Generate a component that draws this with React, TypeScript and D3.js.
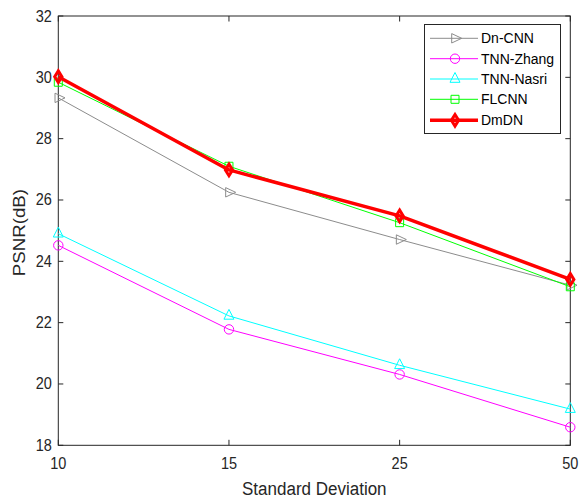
import React from "react";
import * as d3 from "d3";

const categories = ["10", "15", "25", "50"];
const yTicks = [18, 20, 22, 24, 26, 28, 30, 32];
const seriesNames = ["Dn-CNN", "TNN-Zhang", "TNN-Nasri", "FLCNN", "DmDN"];
const dnCNN = [29.33, 26.25, 24.71, 23.22];
const tnnZhang = [24.52, 21.78, 20.31, 18.59];
const tnnNasri = [24.9, 22.22, 20.61, 19.18];
const flcnn = [29.84, 27.1, 25.26, 23.17];
const dmdn = [30.02, 26.98, 25.48, 23.41];

const W = 579, H = 498;
const left = 58.3, right = 570.3, top = 16, bottom = 445.3;
const ink = "#262626";
const font = "'Liberation Sans', Arial, sans-serif";

type Marker = "tri-right" | "circle" | "tri-up" | "square" | "diamond";

const series = [
  { name: seriesNames[0], values: dnCNN, color: "#8c8c8c", width: 1, marker: "tri-right" as Marker },
  { name: seriesNames[1], values: tnnZhang, color: "#ff00ff", width: 1, marker: "circle" as Marker },
  { name: seriesNames[2], values: tnnNasri, color: "#00ffff", width: 1, marker: "tri-up" as Marker },
  { name: seriesNames[3], values: flcnn, color: "#00ff00", width: 1, marker: "square" as Marker },
  { name: seriesNames[4], values: dmdn, color: "#ff0000", width: 3.5, marker: "diamond" as Marker },
];

function markerPath(m: Marker, x: number, y: number): string {
  switch (m) {
    case "tri-right":
      return `M${x + 6.7},${y} L${x - 3.3},${y - 4.7} L${x - 3.3},${y + 4.7} Z`;
    case "tri-up":
      return `M${x},${y - 6.5} L${x + 5},${y + 3.3} L${x - 5},${y + 3.3} Z`;
    case "square":
      return `M${x - 4},${y - 4} L${x + 4},${y - 4} L${x + 4},${y + 4} L${x - 4},${y + 4} Z`;
    case "diamond":
      return `M${x},${y - 5.8} L${x + 3.6},${y} L${x},${y + 5.8} L${x - 3.6},${y} Z`;
    case "circle":
    default: {
      const r = 4.7;
      return `M${x - r},${y} A${r},${r} 0 1,0 ${x + r},${y} A${r},${r} 0 1,0 ${x - r},${y} Z`;
    }
  }
}

export default function App() {
  const x = d3.scalePoint<string>().domain(categories).range([left, right]);
  const y = d3.scaleLinear().domain([18, 32]).range([bottom, top]);
  const line = d3
    .line<number>()
    .x((_, i) => x(categories[i]) as number)
    .y((d) => y(d));

  const legX = 424.5, legY = 24.5, legW = 136, legH = 109;
  const legRows = [38.3, 58.7, 79, 99.3, 120.3];

  return (
    <svg width={W} height={H} style={{ position: "absolute", left: 0, top: 0 }} fontFamily={font}>
      <rect x={0} y={0} width={W} height={H} fill="#fff" />
      {/* axes box */}
      <rect x={left} y={top} width={right - left} height={bottom - top} fill="#fff" stroke={ink} strokeWidth={1} />
      {/* y ticks */}
      {yTicks.map((t) => (
        <g key={"y" + t}>
          <line x1={left} x2={left + 5} y1={y(t)} y2={y(t)} stroke={ink} />
          <line x1={right} x2={right - 5} y1={y(t)} y2={y(t)} stroke={ink} />
          <text
            transform={`translate(${left - 6.5},${y(t) + 5.5}) scale(1,1.15)`}
            textAnchor="end"
            fontSize={14.5}
            fill={ink}
          >
            {t}
          </text>
        </g>
      ))}
      {/* x ticks */}
      {categories.map((c) => (
        <g key={"x" + c}>
          <line x1={x(c)} x2={x(c)} y1={bottom} y2={bottom - 5.5} stroke={ink} />
          <line x1={x(c)} x2={x(c)} y1={top} y2={top + 5.5} stroke={ink} />
          <text
            transform={`translate(${x(c)},${469}) scale(1,1.15)`}
            textAnchor="middle"
            fontSize={14.5}
            fill={ink}
          >
            {c}
          </text>
        </g>
      ))}
      {/* axis labels */}
      <text transform={`translate(${(left + right) / 2},${495}) scale(1,1.05)`} textAnchor="middle" fontSize={17} fill={ink}>
        Standard Deviation
      </text>
      <text transform={`translate(${25},${(top + bottom) / 2 + 2}) scale(1,1.1) rotate(-90)`} textAnchor="middle" fontSize={17} fill={ink}>
        PSNR(dB)
      </text>
      {/* series */}
      {series.map((s) => (
        <g key={s.name}>
          <path d={line(s.values) || ""} fill="none" stroke={s.color} strokeWidth={s.width} strokeLinejoin="round" />
          {s.values.map((v, i) => (
            <path
              key={i}
              d={markerPath(s.marker, x(categories[i]) as number, y(v))}
              fill="none"
              stroke={s.color}
              strokeWidth={s.width > 1 ? 3 : 1}
            />
          ))}
        </g>
      ))}
      {/* legend */}
      <rect x={legX} y={legY} width={legW} height={legH} fill="#fff" stroke={ink} strokeWidth={1} />
      {series.map((s, i) => (
        <g key={"leg" + s.name}>
          <line x1={430} x2={478} y1={legRows[i]} y2={legRows[i]} stroke={s.color} strokeWidth={s.width} />
          <path d={markerPath(s.marker, 455, legRows[i])} fill="none" stroke={s.color} strokeWidth={s.width > 1 ? 3 : 1} />
          <text x={481} y={legRows[i] + 5} fontSize={14} fill="#000">
            {s.name}
          </text>
        </g>
      ))}
    </svg>
  );
}
